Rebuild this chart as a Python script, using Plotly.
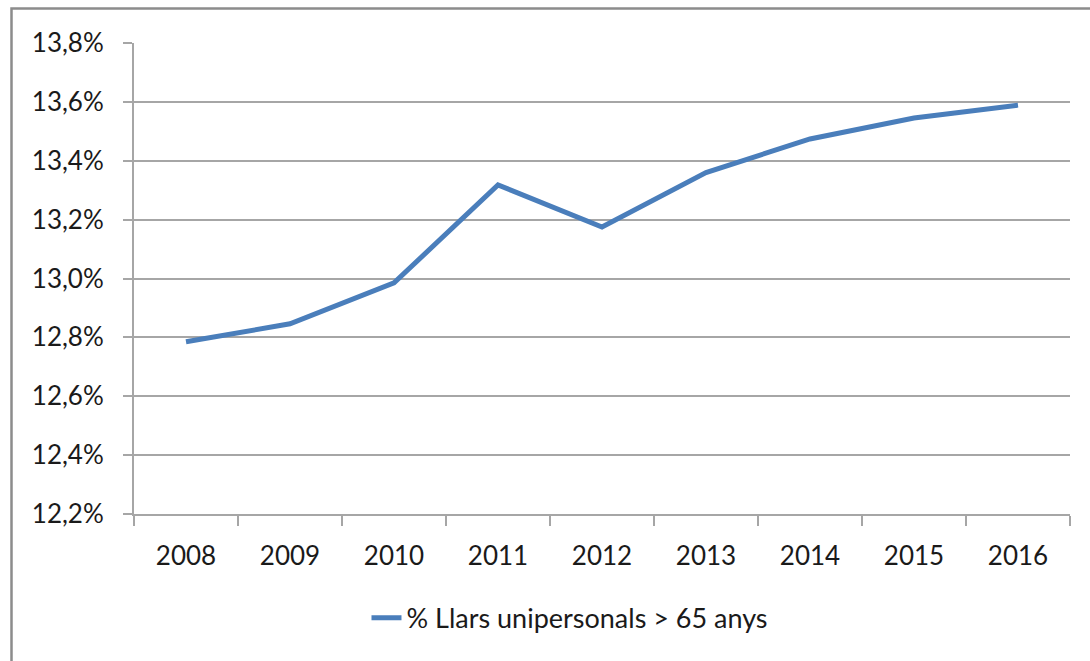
import plotly.graph_objects as go

years = ["2008", "2009", "2010", "2011", "2012", "2013", "2014", "2015", "2016"]
values = [12.785, 12.846, 12.985, 13.318, 13.175, 13.360, 13.474, 13.545, 13.589]
series_name = "% Llars unipersonals > 65 anys"
y_ticks = [12.2, 12.4, 12.6, 12.8, 13.0, 13.2, 13.4, 13.6, 13.8]
y_tick_text = ["12,2%", "12,4%", "12,6%", "12,8%", "13,0%", "13,2%", "13,4%", "13,6%", "13,8%"]

grid_col = "#a6a6a6"
font_fam = "Lato, 'Open Sans', sans-serif"

fig = go.Figure()
fig.add_trace(go.Scatter(
    x=years, y=values, mode="lines", name=series_name,
    line=dict(color="#4a7ebb", width=5),
))

fig.update_layout(
    width=1090, height=661,
    margin=dict(l=134, r=20, t=43, b=147),
    paper_bgcolor="white", plot_bgcolor="white",
    font=dict(family=font_fam, size=26, color="#1a1a1a"),
    showlegend=True,
    legend=dict(orientation="h", x=0.4658, xanchor="center", y=-0.221, yanchor="middle",
                font=dict(size=27), bgcolor="rgba(0,0,0,0)"),
    xaxis=dict(
        type="category", range=[-0.5, 8.5],
        showgrid=False, showline=True, linecolor=grid_col, linewidth=2,
        ticks="outside", tickson="boundaries", ticklen=10, tickwidth=2, tickcolor=grid_col,
        ticklabelstandoff=18,
    ),
    yaxis=dict(
        range=[12.2, 13.8], tickvals=y_ticks, ticktext=y_tick_text,
        showgrid=True, gridcolor=grid_col, gridwidth=2,
        showline=True, linecolor=grid_col, linewidth=2,
        ticks="outside", ticklen=9, tickwidth=2, tickcolor=grid_col,
        ticklabelstandoff=14, zeroline=False,
    ),
    shapes=[dict(type="rect", xref="paper", yref="paper",
                 x0=(11.5 - 134) / 936, x1=1.1, y0=-0.5, y1=(514 - 8.5) / 471,
                 line=dict(color="#8c8c8c", width=2.5), fillcolor="rgba(0,0,0,0)", layer="below")],
)

fig.write_html("out.html", config={"displayModeBar": False})
with open("out.html", "r", encoding="utf-8") as f:
    html = f.read()
html = html.replace("<head>", "<head><style>html,body{margin:0;padding:0;}</style>", 1)
with open("out.html", "w", encoding="utf-8") as f:
    f.write(html)
